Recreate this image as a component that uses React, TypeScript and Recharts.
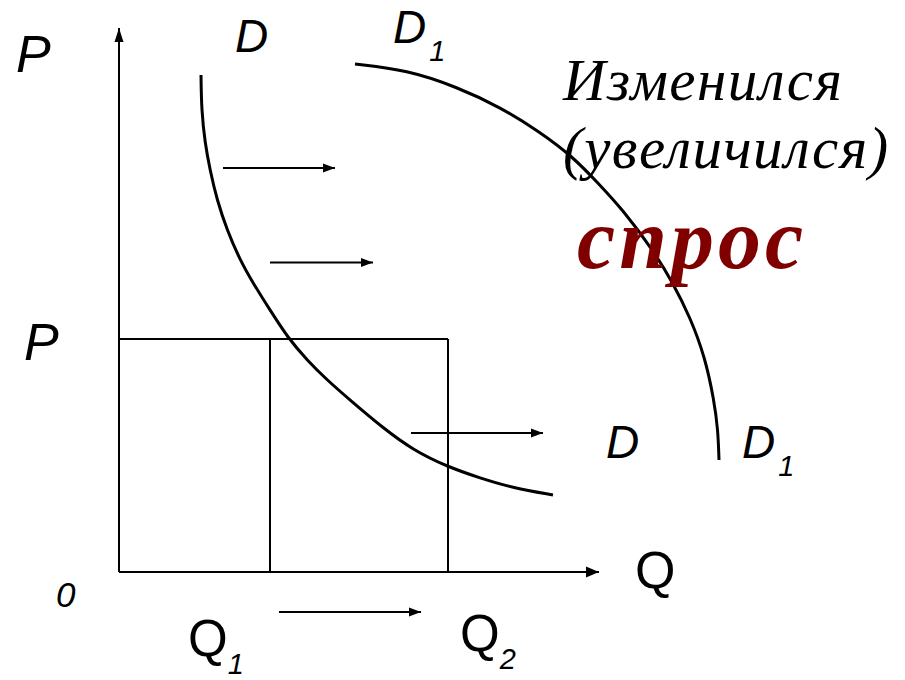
import React from 'react';
import { ComposedChart, Line, Scatter, XAxis, YAxis } from 'recharts';

// Coordinate system: quantity (q) and price (p), origin at the axes' corner.
const Q_DOMAIN: [number, number] = [-23.8, 157.2];
const P_DOMAIN: [number, number] = [-21.6, 114.4];

// Initial demand curve D
const demandD = [
  { q: 16.4, p: 99.4 },
  { q: 16.5, p: 92.4 },
  { q: 17.2, p: 85.8 },
  { q: 18.2, p: 80.4 },
  { q: 19.6, p: 74.4 },
  { q: 21.6, p: 68.4 },
  { q: 24.2, p: 62.4 },
  { q: 26.8, p: 57.8 },
  { q: 30.2, p: 52.4 },
  { q: 33.8, p: 46.8 },
  { q: 37.6, p: 42.4 },
  { q: 41.6, p: 38.4 },
  { q: 46.2, p: 34.4 },
  { q: 52.8, p: 28.8 },
  { q: 58.8, p: 24.4 },
  { q: 65.8, p: 21.0 },
  { q: 72.2, p: 18.8 },
  { q: 78.8, p: 16.8 },
  { q: 86.8, p: 15.4 },
];

// Shifted demand curve D1
const demandD1 = [
  { q: 47.2, p: 101.6 },
  { q: 57.6, p: 100.4 },
  { q: 67.6, p: 97.0 },
  { q: 76.2, p: 93.0 },
  { q: 84.2, p: 88.0 },
  { q: 90.8, p: 83.0 },
  { q: 95.6, p: 78.0 },
  { q: 100.8, p: 72.4 },
  { q: 106.8, p: 64.4 },
  { q: 110.8, p: 57.8 },
  { q: 114.2, p: 51.0 },
  { q: 117.2, p: 43.0 },
  { q: 119.0, p: 34.4 },
  { q: 119.8, p: 28.4 },
  { q: 120.0, p: 22.4 },
];

// Axes
const axisQ = [
  { q: 0, p: 0 },
  { q: 96.0, p: 0 },
];
const axisP = [
  { q: 0, p: 0 },
  { q: 0, p: 108.8 },
];

// Price level and quantities
const priceLevel = 46.6;
const q1 = 30.2;
const q2 = 65.8;
const priceLine = [
  { q: 0, p: priceLevel },
  { q: q2, p: priceLevel },
];
const q1Line = [
  { q: q1, p: 0 },
  { q: q1, p: priceLevel },
];
const q2Line = [
  { q: q2, p: 0 },
  { q: q2, p: priceLevel },
];

// Shift arrows
const shiftArrow1 = [
  { q: 20.8, p: 80.8 },
  { q: 43.2, p: 80.8 },
];
const shiftArrow2 = [
  { q: 30.2, p: 61.9 },
  { q: 50.8, p: 61.9 },
];
const shiftArrow3 = [
  { q: 58.4, p: 27.8 },
  { q: 84.8, p: 27.8 },
];
const shiftArrowQ = [
  { q: 32.0, p: -8.0 },
  { q: 60.4, p: -8.0 },
];

// Labels
const axisLabels = [
  { text: 'P', q: -20.6, p: 100.0, kind: 'italic' },
  { text: 'P', q: -19.0, p: 42.4, kind: 'italic' },
  { text: '0', q: -12.6, p: -7.0, kind: 'zero' },
  { text: 'Q', q: 103.2, p: -3.2, kind: 'upright' },
];
const curveLabels = [
  { text: 'D', sub: '', q: 23.2, p: 104.0, kind: 'italic' },
  { text: 'D', sub: '1', q: 54.8, p: 105.8, kind: 'italic' },
  { text: 'D', sub: '', q: 97.4, p: 22.8, kind: 'italic' },
  { text: 'D', sub: '1', q: 124.6, p: 22.8, kind: 'italic' },
  { text: 'Q', sub: '1', q: 13.8, p: -16.8, kind: 'upright' },
  { text: 'Q', sub: '2', q: 68.2, p: -15.8, kind: 'upright' },
];
const captionLines = [
  { text: 'Изменился', q: 88.8, p: 94.4, kind: 'caption' },
  { text: '(увеличился)', q: 88.8, p: 80.8, kind: 'caption' },
  { text: 'спрос', q: 91.6, p: 60.8, kind: 'accent' },
];

const SANS = '"Liberation Sans", Arial, sans-serif';
const SERIF = '"Liberation Serif", "Times New Roman", serif';

function headRenderer(count: number, dir: 'right' | 'up', len: number, half: number) {
  return (props: any) => {
    const { cx, cy, index } = props;
    const key = `h-${index}`;
    if (index !== count - 1 || cx == null || cy == null) return <g key={key} />;
    const d =
      dir === 'right'
        ? `M${cx},${cy} L${cx - len},${cy - half} L${cx - len},${cy + half} Z`
        : `M${cx},${cy} L${cx - half},${cy + len} L${cx + half},${cy + len} Z`;
    return <path key={key} d={d} fill="#000" stroke="none" />;
  };
}

const renderAxisLabel = (props: any) => {
  const { cx, cy, payload } = props;
  if (cx == null) return <g />;
  if (payload.kind === 'zero') {
    return (
      <text x={cx} y={cy} fontFamily={SANS} fontStyle="italic" fontSize={35} fill="#000">
        {payload.text}
      </text>
    );
  }
  return (
    <text
      x={cx}
      y={cy}
      fontFamily={SANS}
      fontStyle={payload.kind === 'italic' ? 'italic' : 'normal'}
      fontSize={52}
      fill="#000"
    >
      {payload.text}
    </text>
  );
};

const renderCurveLabel = (props: any) => {
  const { cx, cy, payload } = props;
  if (cx == null) return <g />;
  const isQ = payload.kind === 'upright';
  const mainSize = isQ ? 51 : 46;
  return (
    <text
      x={cx}
      y={cy}
      fontFamily={SANS}
      fontStyle={isQ ? 'normal' : 'italic'}
      fontSize={mainSize}
      fill="#000"
    >
      {payload.text}
      {payload.sub ? (
        <tspan dx={isQ ? 0 : 3} dy={18} fontSize={29} fontStyle="italic">
          {payload.sub}
        </tspan>
      ) : null}
    </text>
  );
};

const renderCaption = (props: any) => {
  const { cx, cy, payload } = props;
  if (cx == null) return <g />;
  if (payload.kind === 'accent') {
    return (
      <text
        x={cx}
        y={cy}
        fontFamily={SERIF}
        fontStyle="italic"
        fontWeight="bold"
        fontSize={86}
        letterSpacing={4}
        fill="#800000"
      >
        {payload.text}
      </text>
    );
  }
  return (
    <text
      x={cx}
      y={cy}
      fontFamily={SERIF}
      fontStyle="italic"
      fontSize={59}
      letterSpacing={1.5}
      fill="#000"
    >
      {payload.text}
    </text>
  );
};

const thin = {
  stroke: '#000',
  strokeWidth: 2,
  dot: false as const,
  activeDot: false as const,
  isAnimationActive: false,
  type: 'linear' as const,
};

const curve = {
  stroke: '#000',
  strokeWidth: 3,
  dot: false as const,
  activeDot: false as const,
  isAnimationActive: false,
  type: 'basis' as const,
};

export default function App() {
  return (
    <div style={{ position: 'absolute', left: 0, top: 0, background: '#fff' }}>
      <ComposedChart width={905} height={680} margin={{ top: 0, right: 0, bottom: 0, left: 0 }}>
        <XAxis dataKey="q" type="number" domain={Q_DOMAIN} allowDataOverflow hide />
        <YAxis dataKey="p" type="number" domain={P_DOMAIN} allowDataOverflow hide />

        <Scatter data={axisLabels} dataKey="p" shape={renderAxisLabel} activeShape={renderAxisLabel} isAnimationActive={false} />
        <Scatter data={curveLabels} dataKey="p" shape={renderCurveLabel} activeShape={renderCurveLabel} isAnimationActive={false} />
        <Scatter data={captionLines} dataKey="p" shape={renderCaption} activeShape={renderCaption} isAnimationActive={false} />

        <Line data={priceLine} dataKey="p" {...thin} />
        <Line data={q1Line} dataKey="p" {...thin} />
        <Line data={q2Line} dataKey="p" {...thin} />

        <Line data={axisQ} dataKey="p" {...thin} dot={headRenderer(axisQ.length, 'right', 13, 5.5)} />
        <Line data={axisP} dataKey="p" {...thin} dot={headRenderer(axisP.length, 'up', 14, 4.5)} />

        <Line data={shiftArrow1} dataKey="p" {...thin} dot={headRenderer(2, 'right', 12, 4.5)} />
        <Line data={shiftArrow2} dataKey="p" {...thin} dot={headRenderer(2, 'right', 12, 4.5)} />
        <Line data={shiftArrow3} dataKey="p" {...thin} dot={headRenderer(2, 'right', 12, 4.5)} />
        <Line data={shiftArrowQ} dataKey="p" {...thin} dot={headRenderer(2, 'right', 12, 4.5)} />

        <Line data={demandD} dataKey="p" {...curve} />
        <Line data={demandD1} dataKey="p" {...curve} />
      </ComposedChart>
    </div>
  );
}
